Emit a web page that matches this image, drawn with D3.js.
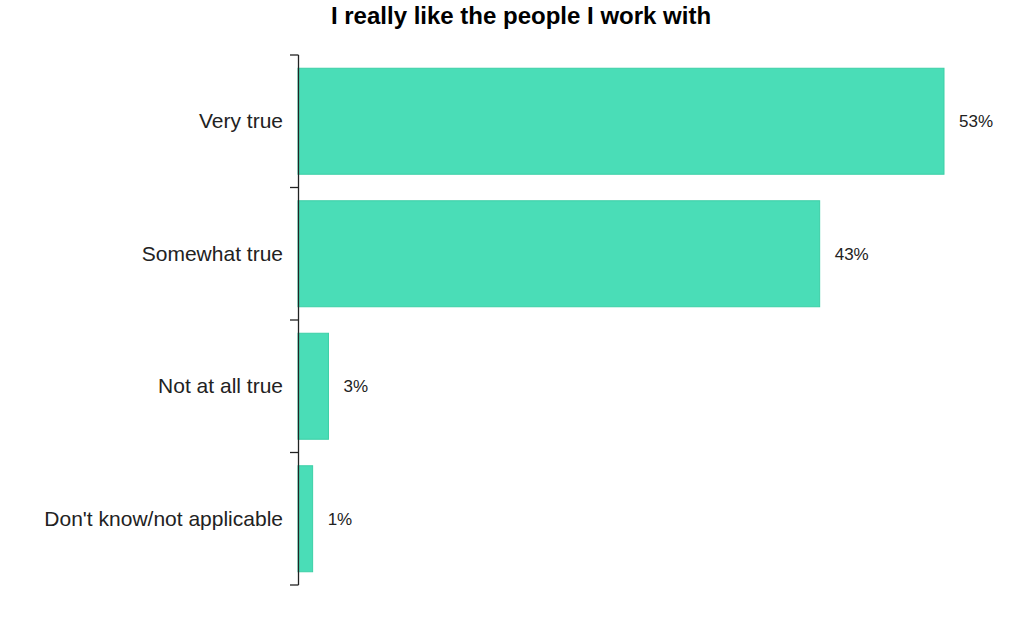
<!DOCTYPE html>
<html><head><meta charset="utf-8">
<script src="https://cdn.jsdelivr.net/npm/d3@7"></script>
<style>body{margin:0;background:#fff;font-family:"Liberation Sans",Arial,sans-serif;}</style>
</head><body><svg id="c" width="1024" height="628"></svg>
<script>
const categories = ["Very true","Somewhat true","Not at all true","Don't know/not applicable"];
const values = [53, 42.8, 2.5, 1.2];
const valueLabels = ["53%","43%","3%","1%"];
const title = "I really like the people I work with";

const svg = d3.select("#c");
const x = d3.scaleLinear().domain([0, 53]).range([298, 944]);
const y = d3.scaleBand().domain(categories).range([55, 585]).paddingInner(0.2).paddingOuter(0.1);

svg.append("text").attr("x", 521).attr("y", 24).attr("text-anchor","middle")
  .attr("font-size", 24).attr("font-weight","bold").attr("fill","#000").text(title);

svg.selectAll("rect.bar").data(values).join("rect").attr("class","bar")
  .attr("x", x(0)).attr("y", (d,i)=>y(categories[i]))
  .attr("width", d=>x(d)-x(0)).attr("height", y.bandwidth())
  .attr("fill","#4ADDB7").attr("stroke","#3ccfa6").attr("stroke-width",1);

svg.selectAll("text.val").data(values).join("text").attr("class","val")
  .attr("x", d=>x(d)+15).attr("y",(d,i)=>y(categories[i])+y.bandwidth()/2+6)
  .attr("font-size",17).attr("fill","#222").text((d,i)=>valueLabels[i]);

svg.selectAll("text.cat").data(categories).join("text").attr("class","cat")
  .attr("x", 283).attr("y", d=>y(d)+y.bandwidth()/2+7)
  .attr("text-anchor","end").attr("font-size",21).attr("fill","#222").text(d=>d);

// axis with ticks at band boundaries
const bounds = [55, 187.5, 320, 452.5, 585];
const ax = svg.append("g").attr("stroke","#222").attr("stroke-width",1.3);
ax.append("line").attr("x1",298.5).attr("x2",298.5).attr("y1",bounds[0]).attr("y2",bounds[4]);
ax.selectAll("line.t").data(bounds).join("line").attr("class","t")
  .attr("x1",290).attr("x2",298.5).attr("y1",d=>d).attr("y2",d=>d);
</script></body></html>
